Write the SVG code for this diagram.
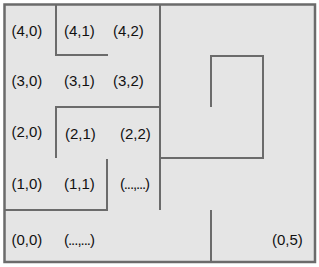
<svg xmlns="http://www.w3.org/2000/svg" width="319" height="267" viewBox="0 0 319 267">
<style>
.wall{fill:none;stroke:#6b6b6b;stroke-width:2;stroke-linecap:butt;stroke-linejoin:miter}
.lbl{font-family:"Liberation Sans",Arial,Helvetica,sans-serif;font-size:15px;fill:#111}
</style>
<rect width="319" height="267" fill="#ffffff"/>
<rect id="frame" x="4.5" y="4.5" width="310.5" height="257.5" fill="#e5e5e5" stroke="#6b6b6b" stroke-width="2.5"/>
<g id="walls" class="wall">
<path d="M56,4 V55 H108"/>
<path d="M160,107 H56 V158"/>
<path d="M107,159 V210 H4"/>
<path d="M160,4 V210"/>
<path d="M160,158 H263 V56 H211 V107"/>
<path d="M211,210 V262"/>
</g>
<g id="labels" class="lbl">
<text x="11.5" y="35.5">(4,0)</text>
<text x="64" y="35.5">(4,1)</text>
<text x="113" y="35.5">(4,2)</text>
<text x="11.5" y="86">(3,0)</text>
<text x="64" y="86">(3,1)</text>
<text x="113" y="86">(3,2)</text>
<text x="11.5" y="137">(2,0)</text>
<text x="65" y="138.5">(2,1)</text>
<text x="120" y="138.5">(2,2)</text>
<text x="11.5" y="189">(1,0)</text>
<text x="64" y="189">(1,1)</text>
<text x="120" y="189" textLength="30" lengthAdjust="spacing">(...,...)</text>
<text x="11.5" y="245">(0,0)</text>
<text x="64" y="245" textLength="31" lengthAdjust="spacing">(...,...)</text>
<text x="272" y="245">(0,5)</text>
</g>
</svg>
